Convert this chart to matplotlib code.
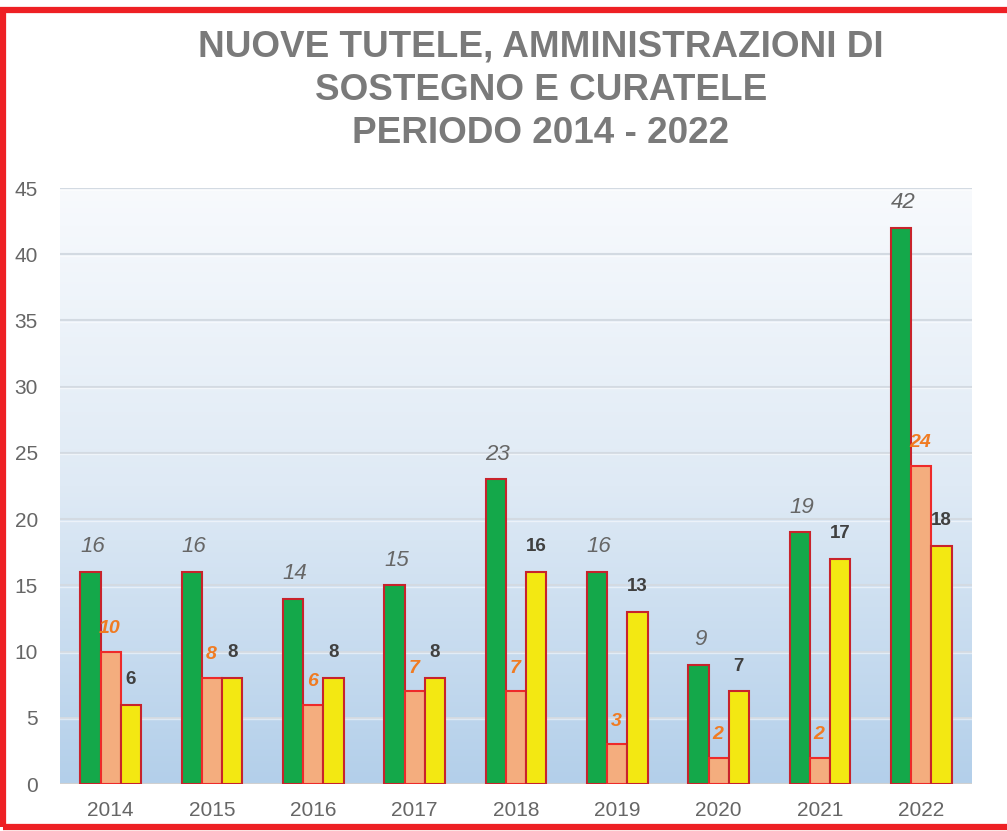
import matplotlib.pyplot as plt
import numpy as np
from matplotlib.colors import LinearSegmentedColormap
from matplotlib.patches import Rectangle

# data
anni = ['2014', '2015', '2016', '2017', '2018', '2019', '2020', '2021', '2022']
tutele = [16, 16, 14, 15, 23, 16, 9, 19, 42]
amministrazioni = [10, 8, 6, 7, 7, 3, 2, 2, 24]
curatele = [6, 8, 8, 8, 16, 13, 7, 17, 18]

titolo = "NUOVE TUTELE, AMMINISTRAZIONI DI\nSOSTEGNO E CURATELE\nPERIODO 2014 - 2022"

plt.rcParams['font.family'] = ['Liberation Sans', 'DejaVu Sans']

fig = plt.figure(figsize=(10.07, 8.31), dpi=100)
ax = fig.add_axes([60 / 1007, 1 - 784 / 831, 912 / 1007, 596 / 831])

# sfondo sfumato (chiaro in alto, azzurro in basso)
cmap = LinearSegmentedColormap.from_list('bg', ['#f8fafd', '#dfeaf5', '#b3cfea'])
grad = np.linspace(0, 1, 256).reshape(-1, 1)
ax.imshow(grad, cmap=cmap, extent=[0, 1, 0, 1], transform=ax.transAxes,
          aspect='auto', origin='upper', zorder=0)

x = np.arange(len(anni))
w = 0.2
edge = '#c8232b'
ax.bar(x - w, tutele, w, color='#14a84a', edgecolor=edge, linewidth=1.5, zorder=3)
ax.bar(x, amministrazioni, w, color='#f4ad7e', edgecolor='#ee2a2a', linewidth=1.5, zorder=3)
ax.bar(x + w, curatele, w, color='#f3e812', edgecolor=edge, linewidth=1.5, zorder=3)

# etichette
for i in range(len(anni)):
    ax.text(x[i] - w + 0.02, tutele[i] + 1.9, str(tutele[i]), ha='center', va='center',
            fontsize=16, style='italic', color='#666666', zorder=4)
    ax.text(x[i] - 0.01, amministrazioni[i] + 1.75, str(amministrazioni[i]), ha='center',
            va='center', fontsize=14, style='italic', fontweight='bold',
            color='#f07b22', zorder=4)
    ax.text(x[i] + w, curatele[i] + 1.9, str(curatele[i]), ha='center', va='center',
            fontsize=13.5, fontweight='bold', color='#404040', zorder=4)

ax.set_xlim(-0.5, len(anni) - 0.5)
ax.set_ylim(0, 45)
ax.set_yticks(range(0, 46, 5))
ax.set_xticks(x)
ax.set_xticklabels(anni)
ax.tick_params(axis='both', length=0, labelsize=15, labelcolor='#666666')
ax.tick_params(axis='y', pad=16)
ax.tick_params(axis='x', pad=12)
for sp in ax.spines.values():
    sp.set_visible(False)
ax.axhline(0, color='#d0d0d0', linewidth=1.5, zorder=2)
for yv in range(5, 46, 5):
    ax.axhline(yv, color='#d3dae2', linewidth=1.5, zorder=1)
    ax.axhline(yv - 0.12, color='#ffffff', linewidth=1, alpha=0.5, zorder=1)

fig.text(541 / 1007, 1 - 90 / 831, titolo, ha='center', va='center', fontsize=26.6,
         fontweight='bold', color='#7a7a7a', linespacing=1.3)

# cornice rossa
fig.patches.append(Rectangle((3 / 1007, 4 / 831), 1.2, 1 - 14 / 831,
                             transform=fig.transFigure, fill=False,
                             edgecolor='#ee2024', linewidth=4.5, zorder=10))

fig.savefig('out.png', dpi=100)
